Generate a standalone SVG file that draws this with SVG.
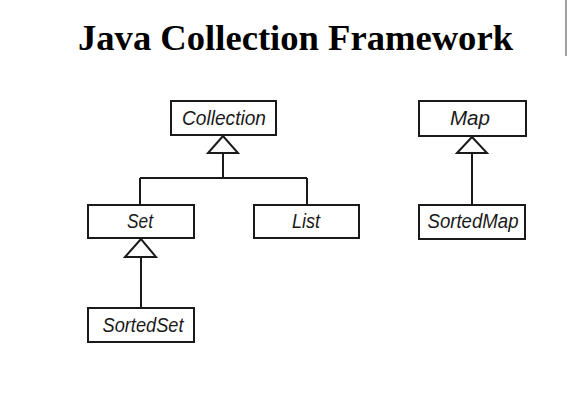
<svg xmlns="http://www.w3.org/2000/svg" width="575" height="408" viewBox="0 0 575 408">
<style>
.box{fill:#fff;stroke:#1a1a1a;stroke-width:2}
.lbl{font-family:"Liberation Sans",Arial,sans-serif;font-style:italic;font-size:20.5px;fill:#1a1a1a;text-anchor:middle}
.con{fill:none;stroke:#1a1a1a;stroke-width:2}
.tri{fill:#fff;stroke:#1a1a1a;stroke-width:2;stroke-linejoin:miter}
.title{font-family:"Liberation Serif","Times New Roman",serif;font-weight:bold;font-size:36.5px;fill:#000}
</style>
<rect width="575" height="408" fill="#fff"/>
<text class="title" x="78" y="50" textLength="435" lengthAdjust="spacingAndGlyphs">Java Collection Framework</text>
<line x1="566" y1="0" x2="566" y2="56" stroke="#808080" stroke-width="1.5"/>
<g id="connectors">
<path class="con" d="M223,153 V178 M140,178 H307 M140,178 V204 M307,178 V204"/>
<path class="tri" d="M223,136 L208,153 L238,153 Z"/>
<path class="con" d="M472,153 V204"/>
<path class="tri" d="M472,137 L457,153 L487,153 Z"/>
<path class="con" d="M141,257 V307"/>
<path class="tri" d="M141,239 L125,257 L156,257 Z"/>
</g>
<g id="collection">
<rect class="box" x="171" y="101" width="105" height="34"/>
<text class="lbl" x="224" y="125" textLength="84" lengthAdjust="spacingAndGlyphs">Collection</text>
</g>
<g id="set">
<rect class="box" x="88" y="205" width="106" height="33"/>
<text class="lbl" x="140" y="228" textLength="26" lengthAdjust="spacingAndGlyphs">Set</text>
</g>
<g id="list">
<rect class="box" x="254" y="205" width="105" height="33"/>
<text class="lbl" x="306" y="228" textLength="28" lengthAdjust="spacingAndGlyphs">List</text>
</g>
<g id="sortedset">
<rect class="box" x="88" y="308" width="106" height="34"/>
<text class="lbl" x="143" y="332" textLength="81" lengthAdjust="spacingAndGlyphs">SortedSet</text>
</g>
<g id="map">
<rect class="box" x="419" y="101" width="107" height="35"/>
<text class="lbl" x="470" y="125" textLength="40" lengthAdjust="spacingAndGlyphs">Map</text>
</g>
<g id="sortedmap">
<rect class="box" x="419" y="205" width="106" height="34"/>
<text class="lbl" x="473" y="228" textLength="91" lengthAdjust="spacingAndGlyphs">SortedMap</text>
</g>
</svg>
